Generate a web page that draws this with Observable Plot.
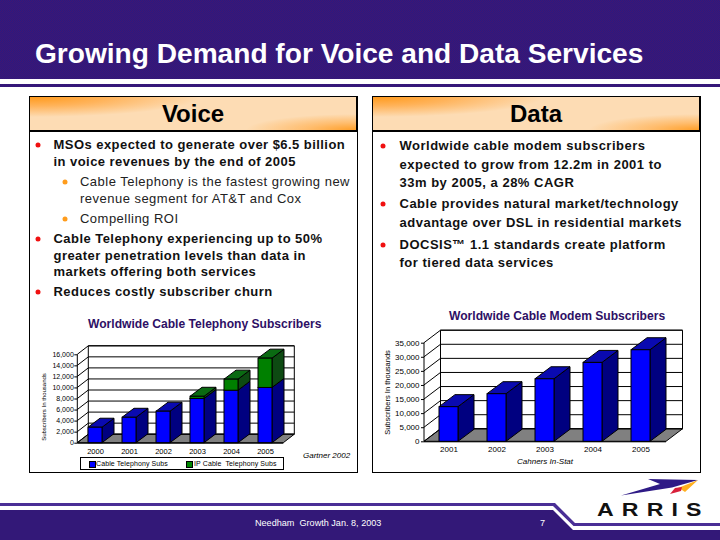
<!DOCTYPE html>
<html><head><meta charset="utf-8">
<script src="https://cdn.jsdelivr.net/npm/d3@7"></script>
<script src="https://cdn.jsdelivr.net/npm/@observablehq/plot@0.6"></script>
<style>
html,body{margin:0;padding:0;width:720px;height:540px;overflow:hidden;background:#fff;font-family:"Liberation Sans",Arial,sans-serif}
#slide{position:relative;width:720px;height:540px;overflow:hidden}
.abs{position:absolute;white-space:nowrap}
.band{background-color:#331878;background-image:repeating-conic-gradient(#421570 0 25%,#281a82 0 50%);background-size:2px 2px}
.panel{position:absolute;top:96px;width:327px;height:375px;border:1px solid #000;background:#fff;box-sizing:content-box}
.head{position:absolute;top:96px;width:326px;height:33px;border:1px solid #000;border-right-width:2px;border-bottom-width:2px;
 background:radial-gradient(ellipse 170px 20px at 0 0,#ff9a1c 0,#ffb35a 45%,rgba(255,205,150,0) 100%),radial-gradient(ellipse 110px 16px at 100% 100%,#ff9f28 0,#ffbd6e 45%,rgba(255,205,150,0) 100%),#fddcb4;
 text-align:center;font:bold 24px/33px "Liberation Sans",sans-serif;color:#000}
.b{font:bold 13px/16px "Liberation Sans",sans-serif;color:#111;letter-spacing:.45px;transform:translateY(-8px)}
.s{font:13px/16px "Liberation Sans",sans-serif;color:#222;letter-spacing:.48px;transform:translateY(-8px)}
#text .d{letter-spacing:.5px}
.dot{position:absolute;width:5px;height:5px;border-radius:50%;transform:translate(-2.5px,-2.5px)}
.ct{font:bold 12.1px/14px "Liberation Sans",sans-serif;color:#2e1065;transform:translateY(-7px)}
.src{font:italic 8px/10px "Liberation Sans",sans-serif;color:#000;transform:translateY(-5px)}
.chart{position:absolute}
.chart svg{display:block;overflow:visible;background:transparent}
</style></head>
<body><div id="slide">
<div class="abs band" style="left:0;top:0;width:720px;height:79px"></div>
<div class="abs band" style="left:0;top:84px;width:720px;height:2.5px"></div>
<div class="abs" style="left:35px;top:38px;font:bold 28.1px/32px 'Liberation Sans',sans-serif;color:#fff" id="title">Growing Demand for Voice and Data Services</div>

<div class="panel" style="left:29px"></div><div class="panel" style="left:372px"></div>
<div class="head" style="left:29px">Voice</div><div class="head" style="left:372px">Data</div>
<div id="text"></div>

<div class="abs ct" style="left:88px;top:324px">Worldwide Cable Telephony Subscribers</div>
<div class="abs ct" style="left:449px;top:316px">Worldwide Cable Modem Subscribers</div>
<div class="chart" id="c1" style="left:30px;top:335px"></div>
<div class="chart" id="c2" style="left:375px;top:322px"></div>
<div class="abs" style="left:80px;top:457px;width:202px;height:11px;border:1px solid #000;background:#fff;font:7px/11px 'Liberation Sans',sans-serif;color:#000">
 <span class="abs" style="left:8px;top:3px;width:5px;height:5px;background:#00f;border:.5px solid #000"></span><span class="abs" style="left:15px;top:0;letter-spacing:.1px">Cable Telephony Subs</span>
 <span class="abs" style="left:105px;top:3px;width:5px;height:5px;background:#080;border:.5px solid #000"></span><span class="abs" style="left:113px;top:0;letter-spacing:.1px;white-space:pre">IP Cable  Telephony Subs</span>
</div>
<div class="abs src" style="left:303px;top:456px">Gartner 2002</div>
<div class="abs src" style="left:517px;top:462px">Cahners In-Stat</div>

<svg class="abs" style="left:0;top:0" width="720" height="540">
 <path d="M0 503H555L575 523H720V526H573.500L553 506H0Z" fill="#4a2f96"/>
 <path d="M0 510H553L573 530H720V540H0Z" fill="#331878"/>
 <path d="M621 495.500L660 484L648 479L698 480L672 487.500Z" fill="#2e1a86"/>
 <path d="M678 488L698 480L685 492L682 490Z" fill="#ffb020"/>
 <path d="M670 494L675 488L682 487L681 491Z" fill="#d8203a"/>
 <text transform="translate(597,515.5) scale(1.25,1)" font-family="Liberation Sans" font-weight="700" font-size="18.500" letter-spacing="6.500" fill="#111">ARRIS</text>
 <text x="255" y="525.5" font-family="Liberation Sans" font-size="9.100" fill="#fff" xml:space="preserve">Needham  Growth Jan. 8, 2003</text>
 <text x="540" y="525.5" font-family="Liberation Sans" font-size="9.100" fill="#fff">7</text>
</svg>
</div>
<script>
// ---- data ----
const telephonyYears = ["2000","2001","2002","2003","2004","2005"];
const cableTelephonySubs = [2800,4600,5700,8000,9500,10000];
const ipCableTelephonySubs = [0,0,0,400,2000,5300];
const telephonyTicks = [0,2000,4000,6000,8000,10000,12000,14000,16000];
const modemYears = ["2001","2002","2003","2004","2005"];
const modemSubs = [12300,16900,22200,28000,32500];
const modemTicks = [0,5000,10000,15000,20000,25000,30000,35000];
const voiceLines = [
 ["b","MSOs expected to generate over $6.5 billion",145,true],
 ["b","in voice revenues by the end of 2005",162,false],
 ["s","Cable Telephony is the fastest growing new",182,true],
 ["s","revenue segment for AT&T and Cox",199,false],
 ["s","Compelling ROI",219,true],
 ["b","Cable Telephony experiencing up to 50%",239,true],
 ["b","greater penetration levels than data in",256,false],
 ["b","markets offering both services",272,false],
 ["b","Reduces costly subscriber churn",292,true]];
const dataLines = [
 ["b","Worldwide cable modem subscribers",146,true],
 ["b","expected to grow from 12.2m in 2001 to",164.5,false],
 ["b","33m by 2005, a 28% CAGR",183,false],
 ["b","Cable provides natural market/technology",204,true],
 ["b","advantage over DSL in residential markets",222.5,false],
 ["b","DOCSIS\u2122 1.1 standards create platform",245,true],
 ["b","for tiered data services",263,false]];

// ---- bullet text ----
const T=document.getElementById("text");
function addLines(lines,bx,sx,dx,sdx,extra){
 for(const [k,t,y,bul] of lines){
  const d=document.createElement("div");d.className="abs "+k+" "+extra;d.textContent=t;
  d.style.left=(k==="b"?bx:sx)+"px";d.style.top=y+"px";T.appendChild(d);
  if(bul){const o=document.createElement("div");o.className="dot";o.style.left=(k==="b"?dx:sdx)+"px";o.style.top=y+"px";o.style.background=k==="b"?"#f01010":"#ff9c1c";T.appendChild(o);}
 }
}
addLines(voiceLines,53.5,80,37.7,64.5,"v");
addLines(dataLines,399.5,0,383,0,"d");

// ---- 3-D chart: faces are computed from the x / y scales ----
function threeD(stacks,ticks,wall,depth){
 return (index,{x,y})=>{
  const g=d3.create("svg:g");
  const [x0,x1]=x.range(), y0=y(0), yT=y(ticks[ticks.length-1]);
  const poly=(pts,fill,sw=1)=>g.append("polygon").attr("points",pts.map(p=>p.join(",")).join(" ")).attr("fill",fill).attr("stroke","#000").attr("stroke-width",sw);
  const {dx,dy}=wall;
  poly([[x0+dx,yT-dy],[x1+dx,yT-dy],[x1+dx,y0-dy],[x0+dx,y0-dy]],"#fff");
  poly([[x0,y0],[x1,y0],[x1+dx,y0-dy],[x0+dx,y0-dy]],"#808080");
  for(const t of ticks){
    g.append("line").attr("x1",x0).attr("y1",y(t)).attr("x2",x0+dx).attr("y2",y(t)-dy).attr("stroke","#000");
    g.append("line").attr("x1",x0+dx).attr("y1",y(t)-dy).attr("x2",x1+dx).attr("y2",y(t)-dy).attr("stroke","#000");
  }
  g.append("line").attr("x1",x0).attr("y1",y0).attr("x2",x0).attr("y2",yT).attr("stroke","#000");
  const w=x.bandwidth();
  for(const b of stacks){
    const L=x(b.x),R=L+w,yb=y(b.y1),ya=y(b.y2);
    poly([[R,yb],[R+depth.dx,yb-depth.dy],[R+depth.dx,ya-depth.dy],[R,ya]],b.side);
    if(b.top) poly([[L,ya],[R,ya],[R+depth.dx,ya-depth.dy],[L+depth.dx,ya-depth.dy]],b.topFill);
  }
  return g.node();
 };
}
const fmt=d3.format(",");

// left chart
const rows1=[];
telephonyYears.forEach((yr,i)=>{
 const a=cableTelephonySubs[i],b=ipCableTelephonySubs[i];
 rows1.push({x:yr,y1:0,y2:a,fill:"#0000ff",side:"#000080",topFill:"#0a0ab0",top:b===0});
 if(b>0) rows1.push({x:yr,y1:a,y2:a+b,fill:"#008000",side:"#0d4a12",topFill:"#0a6a12",top:true});
});
document.getElementById("c1").append(Plot.plot({
 width:270,height:125,marginLeft:47.3,marginRight:16.7,marginTop:19.3,marginBottom:17.3,
 style:{background:"transparent",fontFamily:"Liberation Sans",fontSize:"8px",color:"#000"},
 x:{type:"band",domain:telephonyYears,paddingInner:.6,paddingOuter:.3,label:null},
 y:{domain:[0,16000],label:null},
 marks:[
  threeD(rows1,telephonyTicks,{dx:11,dy:8.5},{dx:12,dy:9}),
  Plot.barY(rows1,{x:"x",y1:"y1",y2:"y2",fill:"fill",stroke:"#000",strokeWidth:1}),
  Plot.ruleY([0],{stroke:"#000"}),
  Plot.axisY({ticks:telephonyTicks,tickFormat:fmt,tickSize:3,tickPadding:1,fontSize:7,stroke:"#000",label:null}),
  Plot.axisX({tickSize:0,tickPadding:5,fontSize:7.5,label:null}),
  Plot.text(["Subscribers In thousands"],{frameAnchor:"left",textAnchor:"middle",dx:-34,dy:8,rotate:-90,fontSize:6,fill:"#000"})
 ]
}));

// right chart
const rows2=modemYears.map((yr,i)=>({x:yr,y1:0,y2:modemSubs[i],fill:"#0000ff",side:"#000080",topFill:"#0a0ab0",top:true}));
document.getElementById("c2").append(Plot.plot({
 width:320,height:135,marginLeft:49,marginRight:29,marginTop:20.7,marginBottom:15.7,
 style:{background:"transparent",fontFamily:"Liberation Sans",fontSize:"8px",color:"#000"},
 x:{type:"band",domain:modemYears,paddingInner:.6,paddingOuter:.3,label:null},
 y:{domain:[0,35000],label:null},
 marks:[
  threeD(rows2,modemTicks,{dx:16.5,dy:12.5},{dx:16,dy:12}),
  Plot.barY(rows2,{x:"x",y1:"y1",y2:"y2",fill:"fill",stroke:"#000",strokeWidth:1}),
  Plot.ruleY([0],{stroke:"#000"}),
  Plot.axisY({ticks:modemTicks,tickFormat:fmt,tickSize:3,tickPadding:2,fontSize:8,stroke:"#000",label:null}),
  Plot.axisX({tickSize:0,tickPadding:5,fontSize:8,label:null}),
  Plot.text(["Subscribers In thousands"],{frameAnchor:"left",textAnchor:"middle",dx:-37,rotate:-90,fontSize:7.5,fill:"#000"})
 ]
}));
</script>
</body></html>
